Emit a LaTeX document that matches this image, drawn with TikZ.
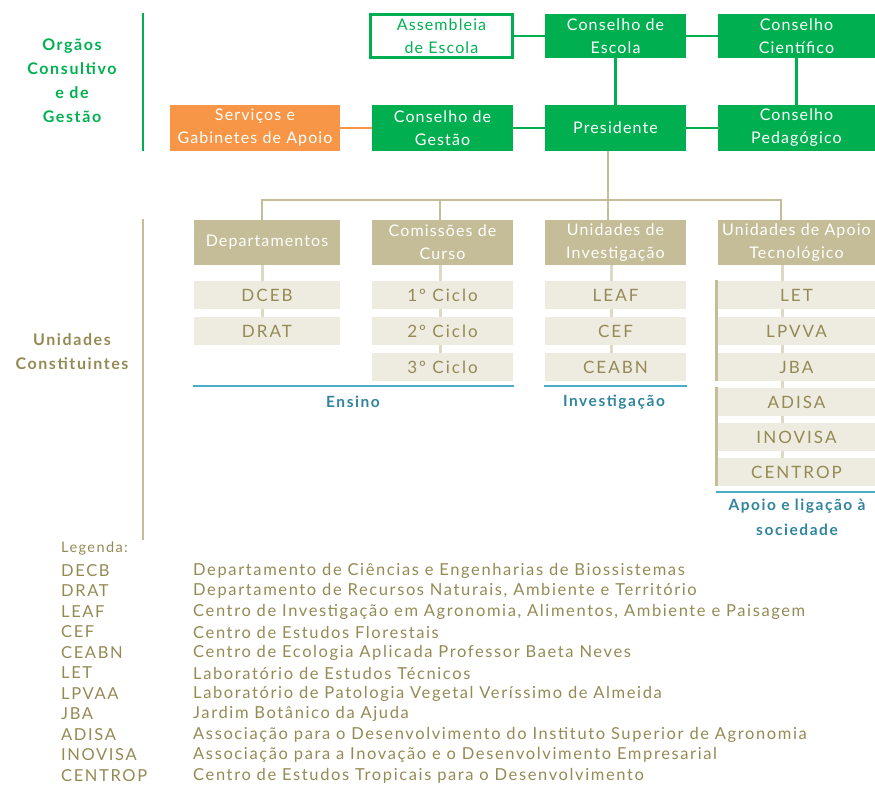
\documentclass[tikz,border=0pt]{standalone}
\usepackage{fontspec}
\setmainfont{Lato}[LetterSpace=7]
\newfontfamily\lfont{Lato}[LetterSpace=12]
\newfontfamily\gfont{Lato}[LetterSpace=9.8]
\newfontfamily\bfont{Lato}[LetterSpace=10]
\usetikzlibrary{calc}
\definecolor{grn}{HTML}{00B050}
\definecolor{org}{HTML}{F79646}
\definecolor{tan}{HTML}{C4BD97}
\definecolor{lite}{HTML}{EEECE1}
\definecolor{olive}{HTML}{948A54}
\definecolor{bline}{HTML}{4BACC6}
\definecolor{btxt}{HTML}{31859C}
\definecolor{conn}{HTML}{DDD9C3}
\begin{document}
\begin{tikzpicture}[x=1pt,y=-1pt,
  box/.style={rectangle,inner sep=0pt,align=center,font=\fontsize{16}{23}\selectfont},
  gbox/.style={box,fill=grn,text=white},
  hbox/.style={box,fill=tan,text=white,minimum height=45pt},
  lbox/.style={box,fill=lite,text=olive,minimum height=28pt,font=\lfont\fontsize{17}{20}\selectfont},
  gline/.style={grn,line width=2.5pt},
  tline/.style={tan,line width=2.5pt},
  cline/.style={conn,line width=3pt},
  uline/.style={bline,line width=2.5pt},
  side/.style={font=\bfont\fontsize{16}{24}\bfseries\selectfont,align=center},
  lab/.style={font=\bfont\fontsize{15.5}{25}\bfseries\selectfont,text=btxt,align=center},
  leg/.style={anchor=west,text=olive,inner sep=0pt,font=\gfont\fontsize{16.5}{18}\selectfont}]
\useasboundingbox (0,0) rectangle (875,785);
% side labels and bars
\node[side,text=grn] (og) at (72,81) {Orgãos\\Consultivo\\e de\\Gestão};
\coordinate (ogt) at (143,13); \coordinate (ogb) at (143,151);
\draw[gline] (ogt) -- (ogb);
\node[side,text=olive] (uc) at (72,352) {Unidades\\Constituintes};
\coordinate (uct) at (143,219); \coordinate (ucb) at (143,540);
\draw[tline] (uct) -- (ucb);
% top boxes
\node[box,draw=grn,line width=2.5pt,text=grn,minimum width=142pt,minimum height=43pt] (asm) at (441.5,36) {Assembleia\\de Escola};
\node[gbox,minimum width=141pt,minimum height=44pt] (ce) at (615.5,36) {Conselho de\\Escola};
\node[gbox,minimum width=157pt,minimum height=44pt] (cc) at (796.5,36) {Conselho\\Científico};
\node[box,fill=org,text=white,minimum width=170pt,minimum height=46pt] (serv) at (255,128) {Serviços e\\Gabinetes de Apoio};
\node[gbox,minimum width=141pt,minimum height=46pt] (cg) at (442.5,128) {Conselho de\\Gestão};
\node[gbox,minimum width=141pt,minimum height=46pt] (pres) at (615.5,128) {Presidente};
\node[gbox,minimum width=157pt,minimum height=46pt] (cp) at (796.5,128) {Conselho\\Pedagógico};
\draw[gline] (asm.east) -- (ce.west);
\draw[gline] (ce.east) -- (cc.west);
\draw[gline] (ce.south) -- (pres.north);
\draw[gline] (cc.south) -- (cp.north);
\draw[org,line width=2.5pt] (serv.east) -- (cg.west);
\draw[gline] (cg.east) -- (pres.west);
\draw[gline] (pres.east) -- (cp.west);
% unit headers
\node[hbox,minimum width=146pt] (dep) at (267,242.5) {Departamentos};
\node[hbox,minimum width=141pt] (com) at (442.5,242.5) {Comissões de\\Curso};
\node[hbox,minimum width=141pt] (ui) at (615.5,242.5) {Unidades de\\Investigação};
\node[hbox,minimum width=157pt] (uat) at (796.5,242.5) {Unidades de Apoio\\Tecnológico};
% tree
\coordinate (p0) at ($(pres.south)+(-7.5,0)$);
\coordinate (hb) at (608,200);
\draw[tline] (p0) -- (hb);
\draw[tline] ($(dep.north)+(-5,0)$) -- (262,200) -- (781,200) -- ($(uat.north)+(-15.5,0)$);
\draw[tline] ($(com.north)+(-2.5,0)$) -- (440,200);
\draw[tline] ($(ui.north)+(-7.5,0)$) -- (hb);
% children
\node[lbox,minimum width=146pt] (dceb) at (267,295) {DCEB};
\node[lbox,minimum width=146pt] (drat) at (267,331) {DRAT};
\node[lbox,minimum width=141pt] (c1) at (442.5,295) {1º Ciclo};
\node[lbox,minimum width=141pt] (c2) at (442.5,331) {2º Ciclo};
\node[lbox,minimum width=141pt] (c3) at (442.5,367) {3º Ciclo};
\node[lbox,minimum width=141pt] (leaf) at (615.5,295) {LEAF};
\node[lbox,minimum width=141pt] (cef) at (615.5,331) {CEF};
\node[lbox,minimum width=141pt] (ceabn) at (615.5,367) {CEABN};
\node[lbox,minimum width=157pt] (let) at (796.5,295) {LET};
\node[lbox,minimum width=157pt] (lpvva) at (796.5,331) {LPVVA};
\node[lbox,minimum width=157pt] (jba) at (796.5,367) {JBA};
\node[lbox,minimum width=157pt] (adisa) at (796.5,402) {ADISA};
\node[lbox,minimum width=157pt] (inov) at (796.5,437) {INOVISA};
\node[lbox,minimum width=157pt] (cent) at (796.5,472) {CENTROP};
\begin{scope}[cline]
\draw ($(dep.south)+(-5,0)$) -- ($(dceb.north)+(-5,0)$);
\draw ($(dceb.south)+(-5,0)$) -- ($(drat.north)+(-5,0)$);
\draw ($(com.south)+(-2.5,0)$) -- ($(c1.north)+(-2.5,0)$);
\draw ($(c1.south)+(-2.5,0)$) -- ($(c2.north)+(-2.5,0)$);
\draw ($(c2.south)+(-2.5,0)$) -- ($(c3.north)+(-2.5,0)$);
\draw ($(ui.south)+(-4.5,0)$) -- ($(leaf.north)+(-4.5,0)$);
\draw ($(leaf.south)+(-4.5,0)$) -- ($(cef.north)+(-4.5,0)$);
\draw ($(cef.south)+(-4.5,0)$) -- ($(ceabn.north)+(-4.5,0)$);
\draw ($(uat.south)+(-14.5,0)$) -- ($(let.north)+(-14.5,0)$);
\draw ($(let.south)+(-14.5,0)$) -- ($(lpvva.north)+(-14.5,0)$);
\draw ($(lpvva.south)+(-14.5,0)$) -- ($(jba.north)+(-14.5,0)$);
\draw ($(jba.south)+(-14.5,0)$) -- ($(adisa.north)+(-14.5,0)$);
\draw ($(adisa.south)+(-14.5,0)$) -- ($(inov.north)+(-14.5,0)$);
\draw ($(inov.south)+(-14.5,0)$) -- ($(cent.north)+(-14.5,0)$);
\end{scope}
% side bars at apoio column
\draw[tline] ($(let.north west)+(-1.5,-1)$) -- ($(jba.south west)+(-1.5,0)$);
\draw[tline] ($(adisa.north west)+(-1.5,-1)$) -- ($(cent.south west)+(-1.5,0)$);
% underlines and labels
\draw[uline] ($(dep.west|-c3.south)+(-1,5)$) -- ($(c3.south east)+(1,5)$);
\draw[uline] ($(ceabn.south west)+(-1,5)$) -- ($(ceabn.south east)+(1,5)$);
\draw[uline] ($(cent.south west)+(-2,6)$) -- ($(cent.south east)+(0,6)$);
\node[lab] (ens) at (353,402) {Ensino};
\node[lab] (inv) at (614,402) {Investigação};
\node[lab] (apo) at (797,517) {Apoio e ligação à\\sociedade};
% legend
\node[leg,font=\gfont\fontsize{14.5}{16}\selectfont] (lg) at (61,548.5) {Legenda:};
\foreach \a/\d [count=\i from 0] in {DECB/Departamento de Ciências e Engenharias de Biossistemas,
 DRAT/{Departamento de Recursos Naturais, Ambiente e Território},
 LEAF/{Centro de Investigação em Agronomia, Alimentos, Ambiente e Paisagem},
 CEF/Centro de Estudos Florestais,
 CEABN/Centro de Ecologia Aplicada Professor Baeta Neves,
 LET/Laboratório de Estudos Técnicos,
 LPVAA/Laboratório de Patologia Vegetal Veríssimo de Almeida,
 JBA/Jardim Botânico da Ajuda,
 ADISA/Associação para o Desenvolvimento do Instituto Superior de Agronomia,
 INOVISA/Associação para a Inovação e o Desenvolvimento Empresarial,
 CENTROP/Centro de Estudos Tropicais para o Desenvolvimento} {
  \node[leg] (la\i) at (61,{570.5+20.5*\i}) {\a};
  \node[leg] (ld\i) at (193,{570.5+20.5*\i}) {\d};
}
\end{tikzpicture}
\end{document}
